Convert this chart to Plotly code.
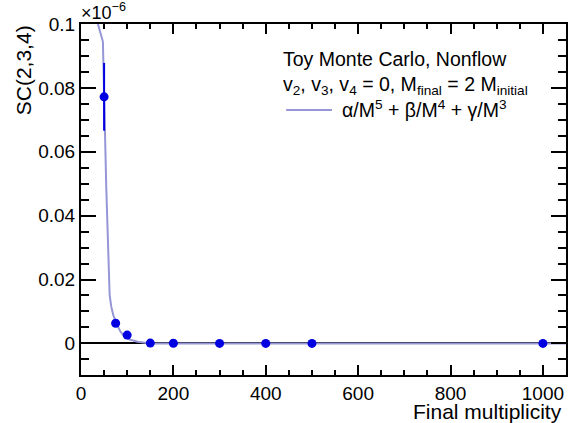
import plotly.graph_objects as go

# Data points (Final multiplicity vs SC(2,3,4), units of 1e-6)
mult = [50, 75, 100, 150, 200, 300, 400, 500, 1000]
sc234 = [0.0772, 0.0063, 0.0026, 0.0001, 0.00005, 0.0, 0.0, 0.0, 0.0]
sc234_err = [0.0106, 0.0004, 0.0003, 0.0001, 0.0001, 0.0, 0.0, 0.0, 0.0]

# Fit curve alpha/M^5 + beta/M^4 + gamma/M^3
fit_x = [36.6, 47.4, 54.7, 59.6, 62, 65.5, 70, 76.2, 85, 94.1, 105, 122.7, 135, 151.6, 200, 400, 700, 1050]
fit_y = [0.1, 0.0945, 0.0487, 0.0198, 0.0152, 0.0115, 0.0088, 0.0064, 0.0038, 0.0021, 0.0012, 0.0005, 0.0002, 0.0, 0.0, 0.0, 0.0, 0.0]

x_ticks = [0, 200, 400, 600, 800, 1000]
y_ticks = [0, 0.02, 0.04, 0.06, 0.08, 0.1]
y_ticktext = ["0", "0.02", "0.04", "0.06", "0.08", "0.1"]

FONT = "Liberation Sans, Arial, sans-serif"
CURVE_COLOR = "rgb(150,150,215)"
POINT_COLOR = "#0000e0"

fig = go.Figure()
fig.add_trace(go.Scatter(
    x=fit_x, y=fit_y, mode="lines",
    line=dict(color=CURVE_COLOR, width=2),
    name="fit", showlegend=False, hoverinfo="skip",
))
fig.add_trace(go.Scatter(
    x=mult, y=sc234, mode="markers",
    marker=dict(color=POINT_COLOR, size=9),
    error_y=dict(type="data", array=sc234_err, color=POINT_COLOR, thickness=2, width=0),
    showlegend=False,
))

fig.update_layout(
    width=570, height=423,
    margin=dict(l=81, r=2, t=24, b=48),
    paper_bgcolor="white", plot_bgcolor="white",
    font=dict(family=FONT, size=19, color="black"),
    showlegend=False,
    xaxis=dict(
        range=[0, 1050], tickvals=x_ticks, ticks="inside", ticklen=10, tickwidth=1.5,
        tickcolor="black", showline=True, linecolor="black", linewidth=2, mirror="allticks",
        showgrid=False, zeroline=False,
        minor=dict(ticks="inside", ticklen=5, dtick=50, tick0=0, tickcolor="black", tickwidth=1.5, showgrid=False),
        tickfont=dict(size=19),
    ),
    yaxis=dict(
        range=[-0.0099, 0.1], tickvals=y_ticks, ticktext=y_ticktext, ticks="inside", ticklen=15,
        tickwidth=1.5, tickcolor="black", showline=True, linecolor="black", linewidth=2,
        mirror="allticks", showgrid=False, zeroline=True, zerolinecolor="black", zerolinewidth=1.5,
        minor=dict(ticks="inside", ticklen=8, dtick=0.005, tick0=0, tickcolor="black", tickwidth=1.5, showgrid=False),
        tickfont=dict(size=19),
    ),
)

annots = [
    dict(text="Final multiplicity", x=566, y=411, xanchor="right", yanchor="middle", font=dict(size=21)),
    dict(text="SC(2,3,4)", x=24, y=23, xanchor="center", yanchor="top", textangle=-90, font=dict(size=21)),
    dict(text="×10<sup>−6</sup>", x=79, y=12, xanchor="left", yanchor="middle", font=dict(size=18)),
    dict(text="Toy Monte Carlo, Nonflow", x=282, y=59, xanchor="left", yanchor="middle", font=dict(size=19.5)),
    dict(text="v<sub>2</sub>, v<sub>3</sub>, v<sub>4</sub> = 0, M<sub>final</sub> = 2 M<sub>initial</sub>",
         x=282, y=86, xanchor="left", yanchor="middle", font=dict(size=19.5)),
    dict(text="α/M<sup>5</sup> + β/M<sup>4</sup> + γ/M<sup>3</sup>", x=341, y=109, xanchor="left", yanchor="middle", font=dict(size=19.5)),
]
for a in annots:
    # convert pixel positions to paper coordinates
    px, py = a.pop("x"), a.pop("y")
    a["x"] = (px - 81) / (570 - 81 - 2)
    a["y"] = 1 - (py - 24) / (423 - 24 - 48)
    a.update(xref="paper", yref="paper", showarrow=False)
    fig.add_annotation(**a)

# legend line sample
lx0 = (287 - 81) / 487
lx1 = (333 - 81) / 487
ly = 1 - (110 - 24) / 351
fig.add_shape(type="line", xref="paper", yref="paper", x0=lx0, x1=lx1, y0=ly, y1=ly,
              line=dict(color=CURVE_COLOR, width=2))

fig.write_html("out.html", config={"displayModeBar": False},
               post_script="document.body.style.margin='0';")
